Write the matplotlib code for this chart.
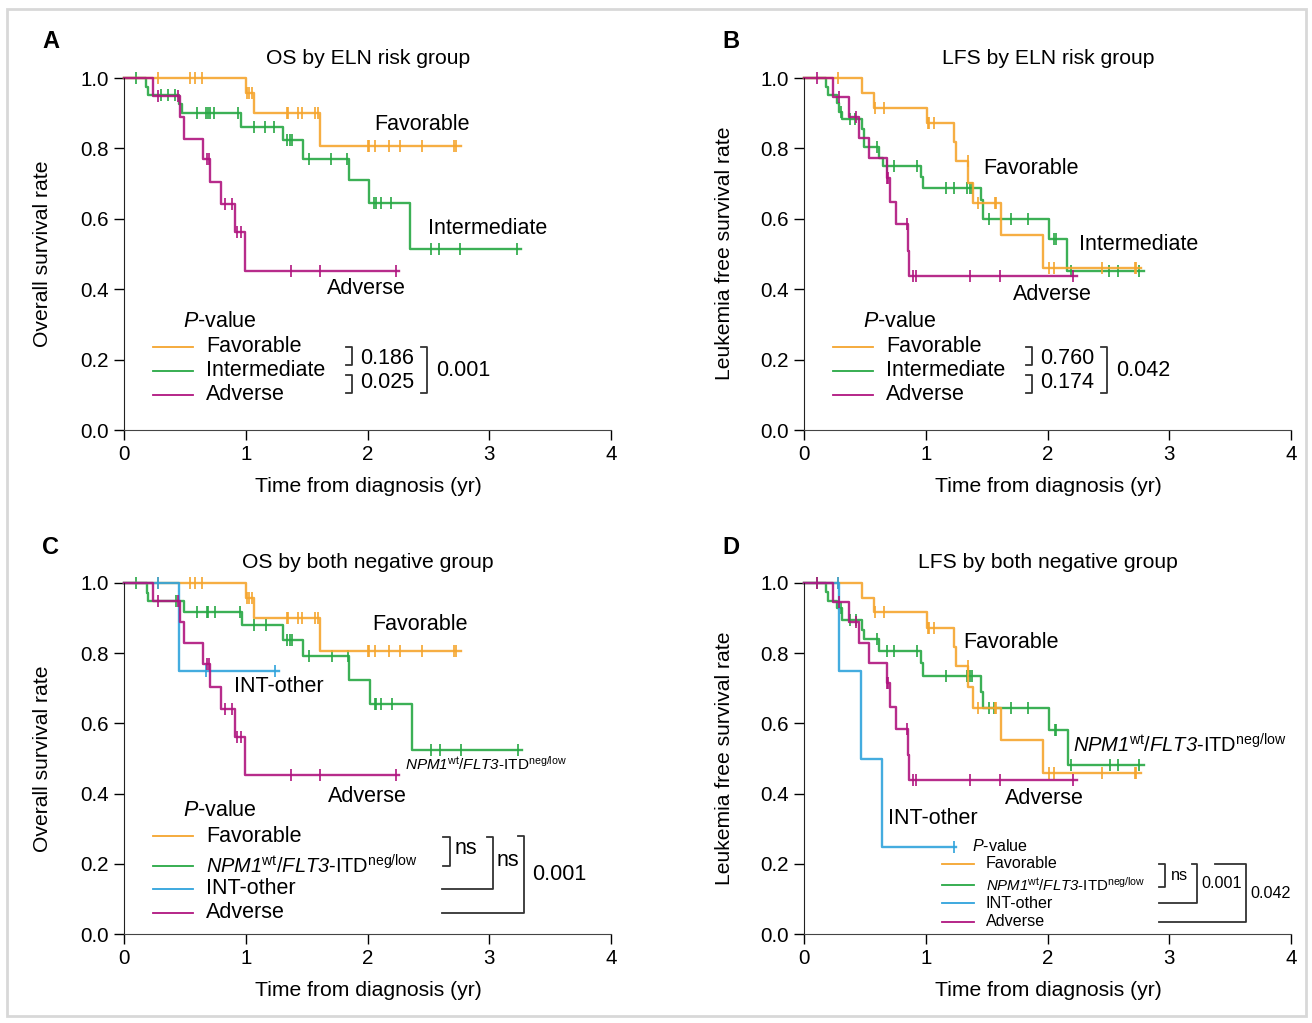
import numpy as np
import matplotlib
matplotlib.use('Agg')
from matplotlib import pyplot as plt
from matplotlib.lines import Line2D
from matplotlib.patches import Rectangle

plt.rcParams['font.family'] = ['Liberation Sans', 'DejaVu Sans']
# mathtext: rm is italic (so digits in gene names are italic too), sf is upright
plt.rcParams['mathtext.fontset'] = 'custom'
plt.rcParams['mathtext.rm'] = 'Liberation Sans:italic'
plt.rcParams['mathtext.it'] = 'Liberation Sans:italic'
plt.rcParams['mathtext.sf'] = 'Liberation Sans'
plt.rcParams['mathtext.bf'] = 'Liberation Sans:bold'

ORANGE = '#F5A52E'
GREEN = '#27A844'
MAGENTA = '#B0157F'
BLUE = '#2FA3DC'

# ---- A: OS by ELN risk group ----
os_fav_t = [1.00, 1.065, 1.613]
os_fav_s = [0.957, 0.900, 0.807]
os_fav_c = [0.28, 0.54, 0.58, 0.64, 1.01, 1.03, 1.05, 1.34, 1.35, 1.43, 1.46, 1.57, 1.59,
            2.00, 2.01, 2.06, 2.18, 2.27, 2.45, 2.71, 2.73]
os_fav_end = 2.77

os_int_t = [0.18, 0.195, 0.453, 0.48, 0.96, 1.306, 1.47, 1.844, 2.01, 2.35]
os_int_s = [0.975, 0.952, 0.926, 0.900, 0.862, 0.823, 0.771, 0.710, 0.644, 0.515]
os_int_c = [0.10, 0.30, 0.365, 0.42, 0.60, 0.67, 0.69, 0.71, 0.74, 0.94, 1.065, 1.16, 1.235,
            1.34, 1.36, 1.38, 1.52, 1.70, 1.83, 2.05, 2.07, 2.11, 2.19, 2.52, 2.59, 2.76, 3.23]
os_int_end = 3.26

os_adv_t = [0.236, 0.46, 0.494, 0.648, 0.708, 0.80, 0.908, 0.996]
os_adv_s = [0.95, 0.889, 0.828, 0.77, 0.705, 0.642, 0.562, 0.452]
os_adv_c = [0.28, 0.447, 0.68, 0.70, 0.826, 0.886, 0.927, 0.963, 1.37, 1.61, 2.23]
os_adv_end = 2.255

# ---- B: LFS by ELN risk group ----
lfs_fav_t = [0.48, 0.575, 1.008, 1.235, 1.245, 1.35, 1.39, 1.62, 1.966]
lfs_fav_s = [0.958, 0.916, 0.871, 0.819, 0.764, 0.703, 0.644, 0.554, 0.459]
lfs_fav_c = [0.28, 0.58, 0.66, 1.02, 1.03, 1.07, 1.345, 1.43, 1.57, 1.58,
             2.01, 2.05, 2.445, 2.72, 2.73]
lfs_fav_end = 2.77

lfs_int_t = [0.178, 0.195, 0.268, 0.287, 0.31, 0.48, 0.49, 0.618, 0.65, 0.96, 0.98,
             1.454, 1.47, 2.01, 2.157]
lfs_int_s = [0.975, 0.952, 0.928, 0.904, 0.883, 0.855, 0.805, 0.772, 0.75, 0.72, 0.687,
             0.653, 0.599, 0.543, 0.452]
lfs_int_c = [0.30, 0.38, 0.42, 0.60, 0.68, 0.74, 0.93, 1.17, 1.23, 1.335, 1.36, 1.38,
             1.52, 1.70, 1.84, 2.05, 2.07, 2.19, 2.505, 2.58, 2.75]
lfs_int_end = 2.79

lfs_adv_t = [0.236, 0.372, 0.45, 0.53, 0.68, 0.706, 0.756, 0.857, 0.865]
lfs_adv_s = [0.947, 0.89, 0.83, 0.772, 0.715, 0.647, 0.584, 0.509, 0.4375]
lfs_adv_c = [0.11, 0.29, 0.43, 0.685, 0.69, 0.85, 0.893, 0.92, 1.363, 1.61, 2.21]
lfs_adv_end = 2.245

# ---- C: OS by both negative group ----
bn_npm_t = [0.187, 0.2, 0.494, 0.97, 1.31, 1.47, 1.846, 2.02, 2.362]
bn_npm_s = [0.972, 0.949, 0.918, 0.88, 0.838, 0.792, 0.724, 0.655, 0.524]
bn_npm_c = [0.10, 0.43, 0.60, 0.68, 0.69, 0.75, 0.955, 1.07, 1.17, 1.34, 1.36, 1.38,
            1.52, 1.71, 1.84, 2.06, 2.07, 2.11, 2.20, 2.525, 2.595, 2.765, 3.24]
bn_npm_end = 3.27

bn_oth_t = [0.453]
bn_oth_s = [0.749]
bn_oth_c = [0.28, 0.675, 1.24]
bn_oth_end = 1.27

# ---- D: LFS by both negative group ----
lfs_npm_t = [0.178, 0.195, 0.268, 0.31, 0.48, 0.49, 0.618, 0.96, 0.98, 1.454, 1.47,
             2.015, 2.166]
lfs_npm_s = [0.975, 0.949, 0.928, 0.895, 0.866, 0.84, 0.806, 0.771, 0.736, 0.689, 0.643,
             0.581, 0.481]
lfs_npm_c = [0.11, 0.30, 0.38, 0.43, 0.60, 0.68, 0.74, 0.93, 1.17, 1.335, 1.36, 1.38,
             1.52, 1.56, 1.70, 1.84, 2.06, 2.07, 2.19, 2.51, 2.58, 2.75]
lfs_npm_end = 2.79

lfs_oth_t = [0.29, 0.468, 0.643]
lfs_oth_s = [0.749, 0.4986, 0.248]
lfs_oth_c = [0.28, 1.235]
lfs_oth_end = 1.25

W, H = 1312, 1023
NPM_LABEL = r'$\mathrm{NPM1}^{\mathsf{wt}}$/$\mathrm{FLT3}$-ITD$^{\mathsf{neg/low}}$'
PVAL = r'$\mathrm{P}$-value'

fig = plt.figure(figsize=(W / 100, H / 100), dpi=100)
fig.add_artist(Rectangle((7 / W, 1 - 1016 / H), 1299 / W, 1007 / H, transform=fig.transFigure,
                         fill=False, edgecolor='#d8d8d8', lw=2))


def ftext(px, py, s, size=15.5, **kw):
    kw.setdefault('ha', 'left')
    kw.setdefault('va', 'center')
    fig.text(px / W, 1 - py / H, s, fontsize=size, **kw)


def fline(xs, ys, color='#333333', lw=1.3):
    fig.add_artist(Line2D([x / W for x in xs], [1 - y / H for y in ys],
                          transform=fig.transFigure, color=color, lw=lw))


def km(ax, t, s, c, end, color):
    xs = [0] + list(t) + [end]
    ys = [1] + list(s) + [s[-1]]
    ax.step(xs, ys, where='post', color=color, lw=1.7, clip_on=False, alpha=0.9)
    lev = np.array([1] + list(s))
    cy = lev[np.searchsorted(t, c, side='right')]
    ax.plot(c, cy, ls='none', marker='|', ms=8, mew=1.2, color=color, clip_on=False)


def make_axes(left_px, bottom_px, top_px):
    ax = fig.add_axes([left_px / W, 1 - bottom_px / H, 487 / W, (bottom_px - top_px) / H])
    ax.set_xlim(0, 4)
    ax.set_ylim(0, 1)
    ax.set_xticks([0, 1, 2, 3, 4])
    ax.set_yticks([0, 0.2, 0.4, 0.6, 0.8, 1.0])
    ax.set_yticklabels(['0.0', '0.2', '0.4', '0.6', '0.8', '1.0'])
    ax.spines['top'].set_visible(False)
    ax.spines['right'].set_visible(False)
    ax.spines['left'].set_color('#222222')
    ax.spines['bottom'].set_color('#444444')
    ax.tick_params(direction='out', length=7, width=1, labelsize=14.8, pad=4)
    ax.patch.set_alpha(0)
    return ax


def legend(x0, y_title, rows, size=15.5, npm_size=None, line_len=40, gap=13):
    ftext(x0 + 30, y_title, PVAL, size=size)
    for y, lab, col in rows:
        fline([x0, x0 + line_len], [y, y], color=col, lw=1.3)
        sz = npm_size if (lab == NPM_LABEL and npm_size) else size
        ftext(x0 + line_len + gap, y, lab, size=sz)


# ---------- A ----------
axA = make_axes(124, 430, 78)
km(axA, os_int_t, os_int_s, os_int_c, os_int_end, GREEN)
km(axA, os_fav_t, os_fav_s, os_fav_c, os_fav_end, ORANGE)
km(axA, os_adv_t, os_adv_s, os_adv_c, os_adv_end, MAGENTA)
ftext(42, 42, 'A', size=17, weight='bold')
ftext(368, 58, 'OS by ELN risk group', size=15.2, ha='center')
ftext(368, 487, 'Time from diagnosis (yr)', size=15.2, ha='center')
ftext(43, 254, 'Overall survival rate', size=15.2, rotation=90, ha='center')
ftext(374, 124, 'Favorable')
ftext(428, 228, 'Intermediate')
ftext(327, 289, 'Adverse')
legend(153, 322, [(347, 'Favorable', ORANGE), (371, 'Intermediate', GREEN), (395, 'Adverse', MAGENTA)])
fline([346, 352, 352, 346], [347, 347, 365, 365])
fline([346, 352, 352, 346], [375, 375, 393, 393])
ftext(360, 359, '0.186')
ftext(360, 383, '0.025')
fline([421, 427, 427, 421], [347, 347, 393, 393])
ftext(436, 371, '0.001')

# ---------- B ----------
axB = make_axes(804, 430, 78)
km(axB, lfs_int_t, lfs_int_s, lfs_int_c, lfs_int_end, GREEN)
km(axB, lfs_fav_t, lfs_fav_s, lfs_fav_c, lfs_fav_end, ORANGE)
km(axB, lfs_adv_t, lfs_adv_s, lfs_adv_c, lfs_adv_end, MAGENTA)
ftext(722, 42, 'B', size=17, weight='bold')
ftext(1048, 58, 'LFS by ELN risk group', size=15.2, ha='center')
ftext(1048, 487, 'Time from diagnosis (yr)', size=15.2, ha='center')
ftext(724, 253, 'Leukemia free survival rate', size=15.2, rotation=90, ha='center')
ftext(983, 168, 'Favorable')
ftext(1079, 244, 'Intermediate')
ftext(1013, 295, 'Adverse')
legend(833, 322, [(347, 'Favorable', ORANGE), (371, 'Intermediate', GREEN), (395, 'Adverse', MAGENTA)])
fline([1026, 1032, 1032, 1026], [347, 347, 365, 365])
fline([1026, 1032, 1032, 1026], [375, 375, 393, 393])
ftext(1040, 359, '0.760')
ftext(1040, 383, '0.174')
fline([1101, 1107, 1107, 1101], [347, 347, 393, 393])
ftext(1116, 371, '0.042')

# ---------- C ----------
axC = make_axes(124, 934, 583)
km(axC, bn_npm_t, bn_npm_s, bn_npm_c, bn_npm_end, GREEN)
km(axC, os_fav_t, os_fav_s, os_fav_c, os_fav_end, ORANGE)
km(axC, bn_oth_t, bn_oth_s, bn_oth_c, bn_oth_end, BLUE)
km(axC, os_adv_t, os_adv_s, os_adv_c, os_adv_end, MAGENTA)
ftext(42, 547, 'C', size=17, weight='bold')
ftext(368, 563, 'OS by both negative group', size=15.2, ha='center')
ftext(368, 991, 'Time from diagnosis (yr)', size=15.2, ha='center')
ftext(43, 759, 'Overall survival rate', size=15.2, rotation=90, ha='center')
ftext(372, 625, 'Favorable')
ftext(234, 687, 'INT-other')
ftext(405, 764, NPM_LABEL, size=11)
ftext(328, 796, 'Adverse')
legend(153, 811, [(836, 'Favorable', ORANGE), (866, NPM_LABEL, GREEN),
                  (889, 'INT-other', BLUE), (913, 'Adverse', MAGENTA)], npm_size=14.4)
fline([443, 450, 450, 443], [837, 837, 866, 866])
ftext(455, 849, 'ns')
fline([487, 493, 493, 442], [837, 837, 889, 889])
ftext(497, 861, 'ns')
fline([518, 524, 524, 442], [836, 836, 913, 913])
ftext(532, 875, '0.001')

# ---------- D ----------
axD = make_axes(804, 934, 583)
km(axD, lfs_npm_t, lfs_npm_s, lfs_npm_c, lfs_npm_end, GREEN)
km(axD, lfs_fav_t, lfs_fav_s, lfs_fav_c, lfs_fav_end, ORANGE)
km(axD, lfs_oth_t, lfs_oth_s, lfs_oth_c, lfs_oth_end, BLUE)
km(axD, lfs_adv_t, lfs_adv_s, lfs_adv_c, lfs_adv_end, MAGENTA)
ftext(722, 547, 'D', size=17, weight='bold')
ftext(1048, 563, 'LFS by both negative group', size=15.2, ha='center')
ftext(1048, 991, 'Time from diagnosis (yr)', size=15.2, ha='center')
ftext(724, 758, 'Leukemia free survival rate', size=15.2, rotation=90, ha='center')
ftext(963, 642, 'Favorable')
ftext(1073, 745, NPM_LABEL, size=14.5)
ftext(1005, 798, 'Adverse')
ftext(888, 818, 'INT-other')
legend(942, 846, [(864, 'Favorable', ORANGE), (885, NPM_LABEL, GREEN),
                  (903, 'INT-other', BLUE), (922, 'Adverse', MAGENTA)],
       size=11.6, npm_size=10.8, line_len=32, gap=12)
fline([1159, 1165, 1165, 1159], [864, 864, 887, 887])
ftext(1171, 875, 'ns', size=11.6)
fline([1192, 1197, 1197, 1159], [864, 864, 903, 903])
ftext(1201, 883, '0.001', size=11.6)
fline([1215, 1246, 1246, 1159], [864, 864, 922, 922])
ftext(1250, 893, '0.042', size=11.6)

plt.savefig('out.png', dpi=100)
